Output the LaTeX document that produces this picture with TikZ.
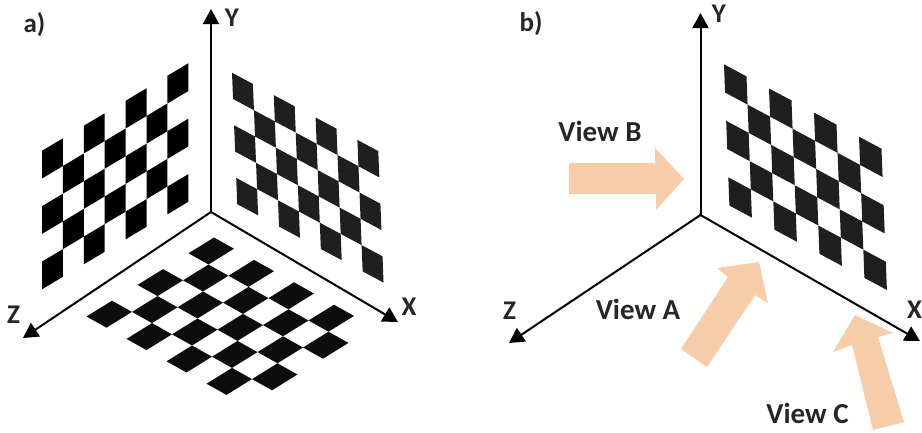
\documentclass[tikz,border=0pt]{standalone}
\usepackage{fontspec}
\setmainfont{Carlito}
\usepackage{tikz}
\usetikzlibrary{calc, arrows.meta}

\definecolor{peach}{HTML}{F6CDA8}

% Scacchiera: origine, passo colonna, passo riga, colonne, righe, colore
\newcommand{\chessboard}[6]{
    \foreach \c in {0,...,#4}{
        \foreach \r in {0,...,#5}{
            \pgfmathtruncatemacro{\odd}{mod(\c+\r,2)}
            \ifnum\odd=0
                \fill[#6] ($#1+\c*#2+\r*#3$) -- ++#2 -- ++#3 -- ++($-1*#2$) -- cycle;
            \fi
        }
    }
}

\begin{document}
\begin{tikzpicture}[
        x=1pt, y=-1pt,
        % Stile degli assi
        axis/.style={
            line width=2pt,
            -{Triangle[length=15pt, width=16pt]},
            shorten <=-1pt
        },
        % Stile delle etichette
        label/.style={
            font=\fontsize{27}{27}\selectfont\bfseries,
            text=black!85,
            inner sep=0pt
        },
        viewlabel/.style={
            label,
            font=\fontsize{29}{29}\selectfont\bfseries
        },
        % Frecce color pesca
        viewarrow/.style={
            fill=peach,
            draw=none
        },
    ]
    \useasboundingbox (0,0) rectangle (922,432);

    % Scacchiere a)
    \chessboard{(188.3,63.3)}{(-20.9,12.5)}{(0,27.7)}{6}{4}{black}
    \chessboard{(232,72.7)}{(20.9,11.2)}{(1.05,26.3)}{6}{4}{black!88}
    \chessboard{(214,237.5)}{(-25.5,15.8)}{(20,11.2)}{4}{7}{black!95}

    % Scacchiera b)
    \chessboard{(724,64.3)}{(22.5,12.06)}{(1.08,28.25)}{6}{4}{black!88}

    % Assi a)
    \coordinate (oa) at (211,212);
    \coordinate (ya) at (211,9);
    \coordinate (xa) at (398,322);
    \coordinate (za) at (23,338);
    \draw[axis] (oa) -- (ya);
    \draw[axis] (oa) -- (xa);
    \draw[axis] (oa) -- (za);

    % Assi b)
    \coordinate (ob) at (700.5,215);
    \coordinate (yb) at (700.5,13);
    \coordinate (xb) at (920,341);
    \coordinate (zb) at (509,343);
    \draw[axis] (ob) -- (yb);
    \draw[axis] (ob) -- (xb);
    \draw[axis] (ob) -- (zb);

    % Frecce delle viste
    \fill[viewarrow] (569,163) -- (655,163) -- (655,148) -- (684,179) -- (656,210) -- (656,194) -- (569,194) -- cycle;
    \fill[viewarrow] (681,349) -- (728,277) -- (717,268) -- (759,262) -- (768,303) -- (755,295) -- (707,367) -- cycle;
    \fill[viewarrow] (873,430) -- (852,345) -- (833,352) -- (855,315) -- (893,333) -- (878,337) -- (904,422) -- cycle;

    % Etichette
    \node[label] (panela) at (34.5,25) {a)};
    \node[label] (panelb) at (531,24) {b)};
    \node[label] (ylaba) at (232,18) {Y};
    \node[label] (xlaba) at (409,307) {X};
    \node[label] (zlaba) at (13.5,315) {Z};
    \node[label] (ylabb) at (719,14) {Y};
    \node[label] (xlabb) at (914.5,310) {X};
    \node[label] (zlabb) at (509.5,311) {Z};
    \node[viewlabel] (viewb) at (600,131) {View B};
    \node[viewlabel] (viewa) at (638,309) {View A};
    \node[viewlabel] (viewc) at (807.5,413) {View C};
\end{tikzpicture}
\end{document}
